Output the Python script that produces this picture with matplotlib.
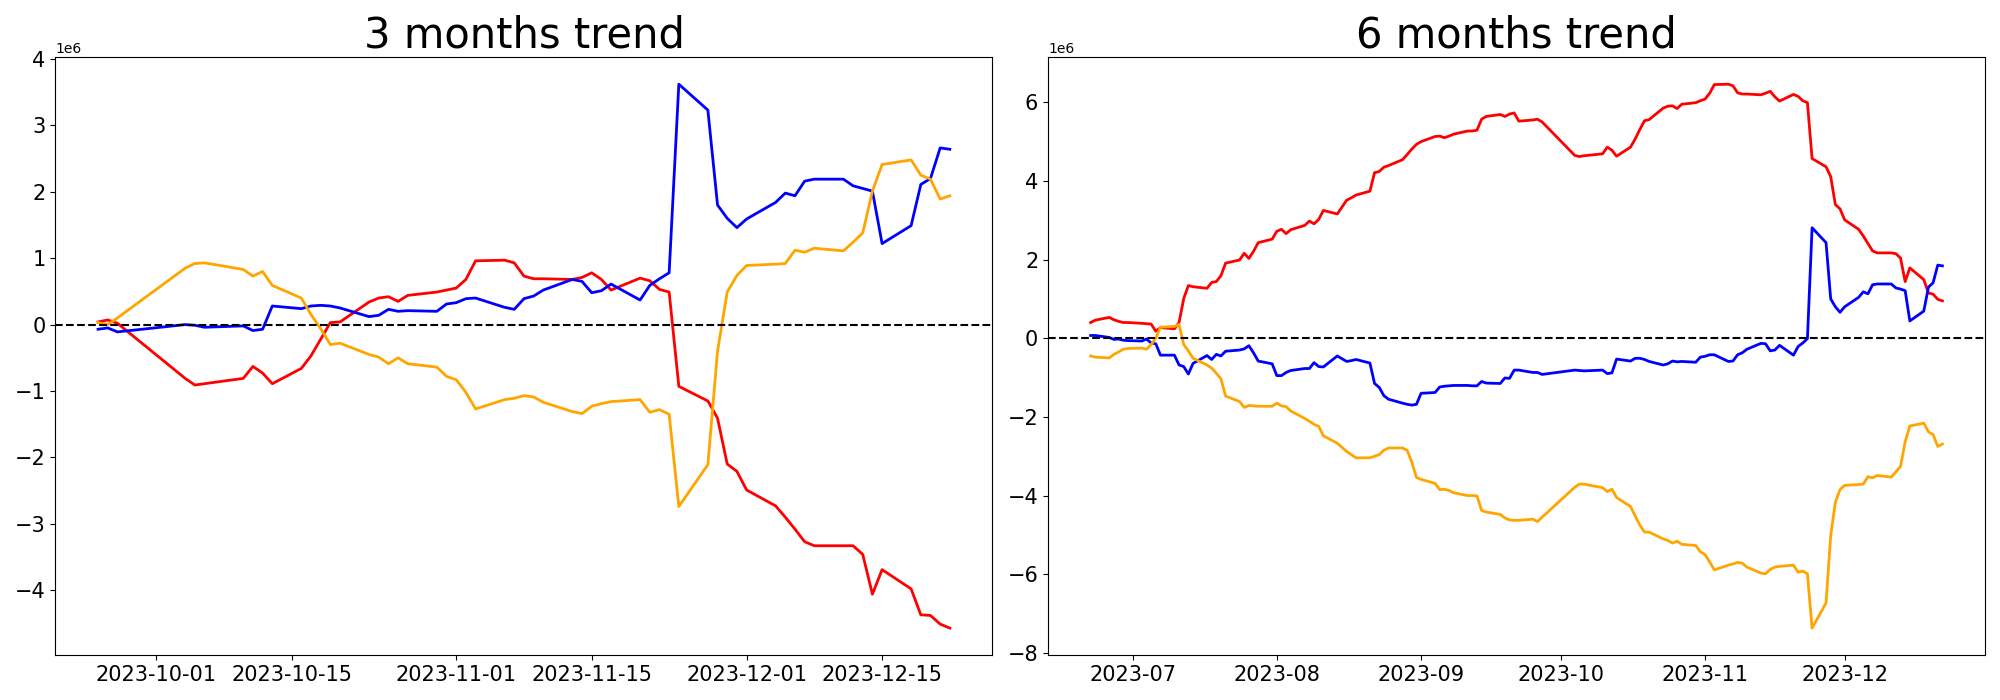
import pandas as pd
import matplotlib.pyplot as plt
from matplotlib.ticker import MultipleLocator

# KRX holidays inside the plotted windows
holidays = pd.to_datetime(['2023-08-15', '2023-09-28', '2023-09-29',
                           '2023-10-02', '2023-10-03', '2023-10-09'])

dates_3m = pd.bdate_range('2023-09-25', '2023-12-22').difference(holidays)
dates_6m = pd.bdate_range('2023-06-22', '2023-12-22').difference(holidays)

# cumulative net buying (1e6), 3 months
red_3m = [0.04, 0.07, 0.02, -0.81, -0.91, -0.89, -0.81, -0.63, -0.73, -0.89,
          -0.66, -0.47, -0.22, 0.03, 0.04, 0.34, 0.40, 0.42, 0.35, 0.44,
          0.49, 0.52, 0.55, 0.68, 0.96, 0.97, 0.93, 0.73, 0.69, 0.69,
          0.68, 0.71, 0.78, 0.68, 0.52, 0.70, 0.66, 0.53, 0.49, -0.93,
          -1.15, -1.41, -2.10, -2.21, -2.49, -2.73, -2.90, -3.08, -3.27, -3.33,
          -3.33, -3.33, -3.46, -4.06, -3.69, -3.98, -4.37, -4.38, -4.51, -4.57]
blue_3m = [-0.07, -0.05, -0.11, 0.00, -0.01, -0.04, -0.02, -0.09, -0.07, 0.28,
           0.24, 0.28, 0.29, 0.28, 0.25, 0.12, 0.14, 0.23, 0.20, 0.21,
           0.20, 0.31, 0.33, 0.39, 0.40, 0.26, 0.23, 0.39, 0.43, 0.52,
           0.68, 0.65, 0.48, 0.51, 0.61, 0.37, 0.59, 0.69, 0.78, 3.62,
           3.23, 1.80, 1.60, 1.46, 1.59, 1.84, 1.98, 1.94, 2.16, 2.19,
           2.19, 2.09, 2.05, 2.01, 1.22, 1.49, 2.11, 2.20, 2.66, 2.64]
orange_3m = [0.03, 0.00, 0.10, 0.85, 0.92, 0.93, 0.83, 0.73, 0.80, 0.59,
             0.40, 0.15, -0.06, -0.30, -0.28, -0.45, -0.49, -0.59, -0.50, -0.59,
             -0.64, -0.78, -0.83, -1.02, -1.27, -1.13, -1.11, -1.07, -1.09, -1.17,
             -1.31, -1.34, -1.23, -1.19, -1.16, -1.13, -1.32, -1.28, -1.35, -2.74,
             -2.11, -0.40, 0.49, 0.74, 0.89, 0.91, 0.92, 1.12, 1.09, 1.15,
             1.11, 1.24, 1.38, 2.01, 2.41, 2.48, 2.25, 2.19, 1.89, 1.94]

# cumulative net buying (1e6), 6 months
red_6m = [0.40, 0.46, 0.53, 0.47, 0.43, 0.40, 0.40,
          0.38, 0.37, 0.36, 0.18, 0.27, 0.24, 0.40, 1.01, 1.34, 1.31, 1.27, 1.42,
          1.44, 1.59, 1.91, 1.99, 2.16, 2.03, 2.21, 2.43, 2.52,
          2.72, 2.77, 2.66, 2.76, 2.87, 2.98, 2.91, 3.02, 3.25, 3.16, 3.51, 3.57,
          3.64, 3.74, 4.21, 4.24, 4.35, 4.39, 4.54, 4.67, 4.81, 4.93,
          5.00, 5.13, 5.14, 5.10, 5.14, 5.19, 5.27, 5.27, 5.29, 5.57, 5.64, 5.69,
          5.64, 5.70, 5.73, 5.52, 5.55, 5.57, 5.50,
          4.65, 4.62, 4.64, 4.69, 4.86, 4.78, 4.63, 4.86, 5.07, 5.31, 5.53, 5.56,
          5.85, 5.90, 5.91, 5.84, 5.95, 5.99, 6.04,
          6.08, 6.23, 6.45, 6.46, 6.42, 6.24, 6.21, 6.21, 6.19, 6.23, 6.28, 6.14,
          6.03, 6.20, 6.15, 6.04, 5.99, 4.57, 4.36, 4.11, 3.40, 3.29,
          3.01, 2.77, 2.60, 2.41, 2.22, 2.17, 2.17, 2.15, 2.04, 1.44, 1.79, 1.49,
          1.15, 1.12, 0.99, 0.95]
blue_6m = [0.07, 0.07, 0.02, -0.03, -0.02, -0.05, -0.06,
           -0.07, -0.02, -0.12, -0.14, -0.43, -0.43, -0.68, -0.72, -0.91, -0.64, -0.44, -0.54,
           -0.41, -0.45, -0.33, -0.30, -0.27, -0.19, -0.37, -0.58, -0.65,
           -0.95, -0.95, -0.87, -0.82, -0.77, -0.77, -0.62, -0.72, -0.73, -0.45, -0.59, -0.57,
           -0.54, -0.63, -1.15, -1.25, -1.46, -1.55, -1.65, -1.68, -1.70, -1.68,
           -1.40, -1.38, -1.24, -1.22, -1.21, -1.20, -1.20, -1.21, -1.21, -1.10, -1.14, -1.15,
           -1.01, -1.02, -0.81, -0.81, -0.87, -0.87, -0.92,
           -0.81, -0.82, -0.83, -0.81, -0.90, -0.88, -0.53, -0.58, -0.51, -0.51, -0.54, -0.59,
           -0.68, -0.65, -0.58, -0.60, -0.59, -0.61, -0.48,
           -0.46, -0.42, -0.42, -0.59, -0.58, -0.42, -0.37, -0.28, -0.13, -0.14, -0.32, -0.30,
           -0.18, -0.43, -0.21, -0.12, -0.01, 2.81, 2.43, 1.00, 0.80, 0.66,
           0.80, 1.04, 1.18, 1.13, 1.36, 1.38, 1.38, 1.28, 1.25, 1.21, 0.44, 0.69,
           1.30, 1.41, 1.86, 1.84]
orange_6m = [-0.45, -0.48, -0.50, -0.41, -0.35, -0.28, -0.26,
             -0.25, -0.28, -0.16, 0.00, 0.28, 0.30, 0.35, -0.16, -0.32, -0.51, -0.68, -0.76,
             -0.89, -1.03, -1.47, -1.61, -1.76, -1.71, -1.72, -1.73, -1.73,
             -1.65, -1.72, -1.74, -1.85, -2.04, -2.11, -2.19, -2.24, -2.48, -2.67, -2.88, -2.96,
             -3.04, -3.04, -3.00, -2.96, -2.85, -2.79, -2.79, -2.85, -3.15, -3.54,
             -3.59, -3.69, -3.85, -3.84, -3.87, -3.93, -4.00, -4.00, -4.01, -4.38, -4.42, -4.48,
             -4.57, -4.62, -4.63, -4.63, -4.60, -4.66, -4.55,
             -3.79, -3.71, -3.71, -3.80, -3.90, -3.84, -4.05, -4.28, -4.52, -4.75, -4.93, -4.93,
             -5.10, -5.14, -5.21, -5.16, -5.24, -5.27, -5.43,
             -5.50, -5.69, -5.89, -5.77, -5.74, -5.70, -5.72, -5.82, -5.97, -5.99, -5.88, -5.82,
             -5.80, -5.77, -5.95, -5.92, -5.99, -7.37, -6.73, -5.02, -4.17, -3.85,
             -3.74, -3.72, -3.71, -3.52, -3.55, -3.49, -3.53, -3.40, -3.26, -2.63, -2.23, -2.16,
             -2.38, -2.45, -2.75, -2.69]

df_3m = pd.DataFrame({'red': red_3m, 'blue': blue_3m, 'orange': orange_3m},
                     index=dates_3m) * 1e6
df_6m = pd.DataFrame({'red': red_6m, 'blue': blue_6m, 'orange': orange_6m},
                     index=dates_6m) * 1e6

fig, axes = plt.subplots(1, 2, figsize=(20, 7))

for ax, df, title in zip(axes, [df_3m, df_6m], ['3 months trend', '6 months trend']):
    for col in ['red', 'blue', 'orange']:
        ax.plot(df.index, df[col], color=col, linewidth=2)
    ax.axhline(0, color='black', linestyle='--', linewidth=1.5)
    ax.set_title(title, fontsize=30)
    ax.tick_params(axis='both', labelsize=15)

axes[0].yaxis.set_major_locator(MultipleLocator(1e6))

plt.tight_layout()
plt.savefig('out.png', dpi=100)
